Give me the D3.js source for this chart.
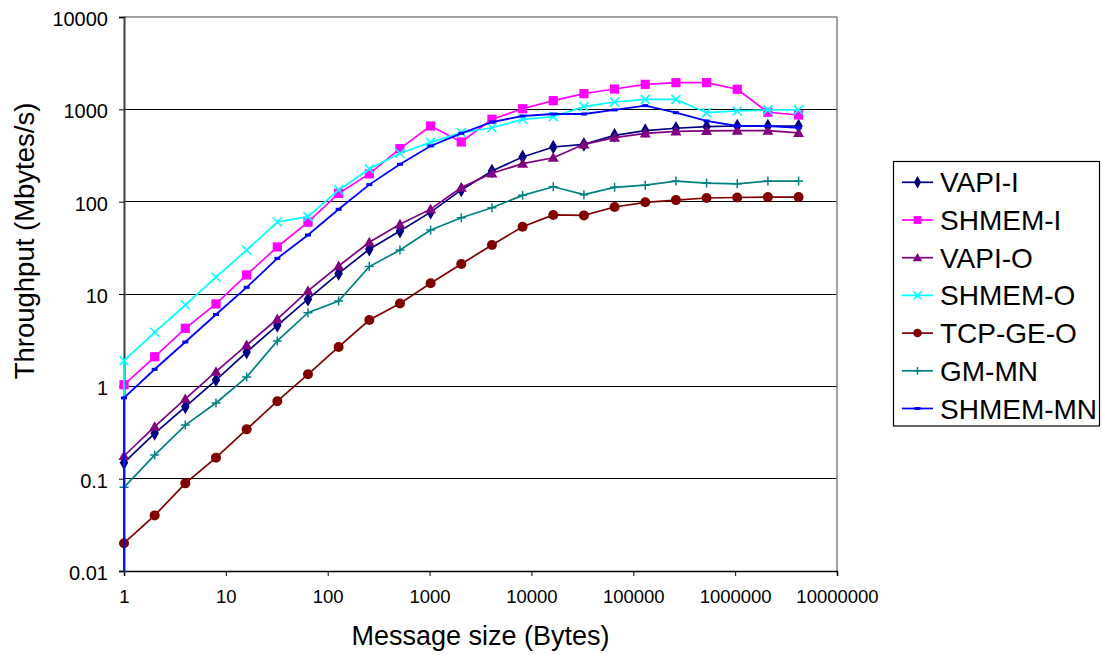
<!DOCTYPE html>
<html>
<head>
<meta charset="utf-8">
<script src="https://cdn.jsdelivr.net/npm/d3@7"></script>
<style>
  html, body { margin: 0; padding: 0; background: #fff; }
  svg { display: block; font-family: "Liberation Sans", Arial, Helvetica, sans-serif; }
</style>
</head>
<body>
<svg id="chart" width="1102" height="655"></svg>
<script>
// ---------------- data ----------------
const sizes = [1, 2, 4, 8, 16, 32, 64, 128, 256, 512, 1024, 2048, 4096, 8192, 16384,
  32768, 65536, 131072, 262144, 524288, 1048576, 2097152, 4194304];

const seriesNames = ["VAPI-I", "SHMEM-I", "VAPI-O", "SHMEM-O", "TCP-GE-O", "GM-MN", "SHMEM-MN"];

const vapiI   = [0.149, 0.31, 0.60, 1.17, 2.35, 4.58, 8.8, 16.7, 30.5, 48, 77, 134, 215, 305, 391, 418, 523, 587, 624, 649, 660, 660, 660];
const shmemI  = [1.04, 2.09, 4.25, 7.8, 16.1, 32.3, 60, 123, 200, 375, 660, 443, 780, 1016, 1241, 1479, 1660, 1866, 1945, 1945, 1650, 929, 868];
const vapiO   = [0.176, 0.366, 0.73, 1.44, 2.8, 5.36, 10.8, 20.1, 36.3, 56.8, 83, 142, 203, 258, 299, 418, 493, 550, 578, 585, 587, 587, 555];
const shmemO  = [1.9, 3.85, 7.6, 15.2, 29.9, 60.2, 68.8, 134, 226, 334, 439, 559, 632, 780, 833, 1069, 1200, 1282, 1282, 920, 960, 985, 985];
const tcpGEO  = [0.020, 0.040, 0.089, 0.169, 0.342, 0.69, 1.35, 2.67, 5.22, 7.9, 13.1, 21.1, 34, 53.6, 71.8, 71, 87.5, 98.4, 104, 109.6, 111, 112, 112];
const gmMN    = [0.0806, 0.180, 0.381, 0.66, 1.26, 3.10, 6.28, 8.4, 19.8, 29.9, 49.3, 67, 86, 117, 145, 119, 143, 151, 167, 159, 156, 167, 167];
const shmemMN = [0.75, 1.53, 3.02, 6.0, 11.8, 24.3, 43.5, 82.7, 153, 254, 401, 550, 729, 847, 890, 890, 985, 1096, 920, 748, 660, 660, 632];

// series whose line starts from a zero value at the first message size
const zeroStart = ["SHMEM-O", "SHMEM-MN"];

const yTicks = [0.01, 0.1, 1, 10, 100, 1000, 10000];
const yTickLabels = ["0.01", "0.1", "1", "10", "100", "1000", "10000"];
const xTicks = [1, 10, 100, 1000, 10000, 100000, 1000000, 10000000];
const xTickLabels = ["1", "10", "100", "1000", "10000", "100000", "1000000", "10000000"];

const xTitle = "Message size (Bytes)";
const yTitle = "Throughput (Mbytes/s)";

// ---------------- styles ----------------
const seriesValues = [vapiI, shmemI, vapiO, shmemO, tcpGEO, gmMN, shmemMN];
const colors = ["#000080", "#FF00FF", "#800080", "#00FFFF", "#800000", "#008080", "#0000FF"];
const markerTypes = ["diamond", "square", "triangle", "x", "circle", "plus", "dash"];

const svg = d3.select("#chart");
const plot = { left: 124, right: 837, top: 17, bottom: 571 };

const x = d3.scaleLog().domain([1, 1e7]).range([plot.left, plot.right]);
const y = d3.scaleLog().domain([0.01, 10000]).range([plot.bottom, plot.top]).clamp(true);

// gridlines
svg.append("g").selectAll("line").data(yTicks.slice(1, -1)).join("line")
  .attr("x1", plot.left).attr("x2", plot.right)
  .attr("y1", d => y(d)).attr("y2", d => y(d))
  .attr("stroke", "#000").attr("stroke-width", 1).attr("shape-rendering", "crispEdges");

// plot border top/right
svg.append("line").attr("x1", plot.left).attr("x2", plot.right).attr("y1", plot.top).attr("y2", plot.top)
  .attr("stroke", "#808080").attr("stroke-width", 1.5);
svg.append("line").attr("x1", plot.right).attr("x2", plot.right).attr("y1", plot.top).attr("y2", plot.bottom)
  .attr("stroke", "#808080").attr("stroke-width", 1.5);

// axes
const xAxis = d3.axisBottom(x).tickValues(xTicks).tickSize(5).tickPadding(14)
  .tickFormat((d, i) => xTickLabels[i]);
const gx = svg.append("g").attr("transform", `translate(0,${plot.bottom})`).call(xAxis);
gx.select(".domain").attr("stroke", "#000").attr("stroke-width", 1.5);
gx.selectAll(".tick line").attr("stroke", "#000");
gx.selectAll(".tick text").attr("font-size", 18.5).attr("fill", "#000")
  .attr("font-family", "Liberation Sans, Arial, sans-serif");

const yAxis = d3.axisLeft(y).tickValues(yTicks).tickSize(5).tickPadding(11)
  .tickFormat((d, i) => yTickLabels[i]);
const gy = svg.append("g").attr("transform", `translate(${plot.left},0)`).call(yAxis);
gy.select(".domain").attr("stroke", "#404040").attr("stroke-width", 2);
gy.selectAll(".tick line").attr("stroke", "#000");
gy.selectAll(".tick text").attr("font-size", 20).attr("fill", "#000").attr("dy", "0.42em")
  .attr("font-family", "Liberation Sans, Arial, sans-serif");

// axis titles
svg.append("text").attr("x", (plot.left + plot.right) / 2).attr("y", 645)
  .attr("text-anchor", "middle").attr("font-size", 27).attr("fill", "#000").text(xTitle);
svg.append("text").attr("transform", "translate(34,241) rotate(-90)")
  .attr("text-anchor", "middle").attr("font-size", 27.5).attr("fill", "#000").text(yTitle);

// markers
function drawMarker(g, type, color, cx, cy, scale) {
  const s = scale || 1;
  if (type === "diamond") {
    g.append("path").attr("d", d3.symbol(d3.symbolDiamond, 62 * s * s)())
      .attr("transform", `translate(${cx},${cy})`).attr("fill", color);
  } else if (type === "square") {
    const h = 4.6 * s;
    g.append("rect").attr("x", cx - h).attr("y", cy - h).attr("width", 2 * h).attr("height", 2 * h).attr("fill", color);
  } else if (type === "triangle") {
    const h = 5.5 * s;
    g.append("path").attr("d", `M${cx},${cy - h}L${cx + h},${cy + h * 0.75}L${cx - h},${cy + h * 0.75}Z`).attr("fill", color);
  } else if (type === "x") {
    const h = 4.5 * s;
    g.append("path").attr("d", `M${cx - h},${cy - h}L${cx + h},${cy + h}M${cx - h},${cy + h}L${cx + h},${cy - h}`)
      .attr("stroke", color).attr("stroke-width", 1.6).attr("fill", "none");
  } else if (type === "circle") {
    g.append("circle").attr("cx", cx).attr("cy", cy).attr("r", 5 * s).attr("fill", color);
  } else if (type === "plus") {
    const h = 4.5 * s;
    g.append("path").attr("d", `M${cx - h},${cy}L${cx + h},${cy}M${cx},${cy - h}L${cx},${cy + h}`)
      .attr("stroke", color).attr("stroke-width", 1.5).attr("fill", "none");
  } else if (type === "dash") {
    g.append("rect").attr("x", cx - 3).attr("y", cy - 1.5).attr("width", 6).attr("height", 3).attr("fill", color);
  }
}

const line = d3.line().x(d => x(d[0])).y(d => y(d[1]));

seriesNames.forEach((name, si) => {
  const vals = seriesValues[si];
  let pts = sizes.map((s, i) => [s, vals[i]]);
  let linePts = zeroStart.includes(name) ? [[sizes[0], 0]].concat(pts) : pts;
  const g = svg.append("g");
  g.append("path").attr("d", line(linePts)).attr("fill", "none")
    .attr("stroke", colors[si]).attr("stroke-width", name === "SHMEM-MN" ? 1.8 : 1.7);
  pts.forEach(p => drawMarker(g, markerTypes[si], colors[si], x(p[0]), y(p[1]), 1));
});

// legend
const lg = svg.append("g");
lg.append("rect").attr("x", 893.5).attr("y", 161.5).attr("width", 206).attr("height", 264.5)
  .attr("fill", "#fff").attr("stroke", "#000").attr("stroke-width", 1.2);
const lgTop = 182.3, lgStep = 37.7;
seriesNames.forEach((name, si) => {
  const cy = lgTop + si * lgStep;
  lg.append("line").attr("x1", 902).attr("x2", 933).attr("y1", cy).attr("y2", cy)
    .attr("stroke", colors[si]).attr("stroke-width", 1.7);
  drawMarker(lg, markerTypes[si], colors[si], 917.5, cy, 0.85);
  lg.append("text").attr("x", 940).attr("y", cy).attr("dy", "0.36em")
    .attr("font-size", 28).attr("fill", "#000").text(name);
});
</script>
</body>
</html>
